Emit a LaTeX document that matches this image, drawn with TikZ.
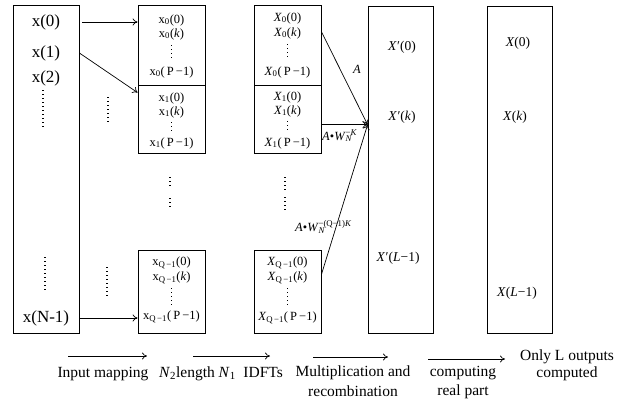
\documentclass[tikz,border=0pt]{standalone}
\usepackage{fontspec}
\setmainfont{Liberation Serif}
\usetikzlibrary{arrows.meta}
\newcommand\xsub[2]{x\textsubscript{#1}(#2)}
\newcommand\Xsub[2]{\textit{X}\textsubscript{#1}(#2)}
\newcommand\km{\textit{k}}
\newcommand\pmo{\,P\,−1}
\newcommand\Xpr{\textit{X}\kern0.5pt′}
\begin{document}
\begin{tikzpicture}[x=1pt,y=-1pt,
  box/.style={draw, line width=0.8pt, inner sep=0pt},
  conn/.style={-{To[length=5pt,width=7pt]}, line width=0.7pt},
  dotline/.style={line width=1.1pt, dash pattern=on 1pt off 3pt},
  big/.style={font=\fontsize{17}{19}\selectfont, inner sep=0pt},
  sm/.style={font=\fontsize{12.5}{14}\selectfont, inner sep=0pt},
  mid/.style={font=\fontsize{13.5}{15}\selectfont, inner sep=0pt},
  captxt/.style={font=\fontsize{15.5}{19.5}\selectfont, align=center, inner sep=0pt}]
\useasboundingbox (0,0) rectangle (624,405);
% boxes
\node[box, minimum width=66pt, minimum height=328pt] (L) at (46,169) {};
\node[box, minimum width=67pt, minimum height=80pt] (b0) at (171.5,45) {};
\node[box, minimum width=67pt, minimum height=68pt] (b1) at (171.5,119) {};
\node[box, minimum width=67pt, minimum height=83pt] (bq) at (171.5,291.5) {};
\node[box, minimum width=67pt, minimum height=80pt] (X0) at (287.5,45) {};
\node[box, minimum width=67pt, minimum height=68pt] (X1) at (287.5,119) {};
\node[box, minimum width=67pt, minimum height=83pt] (Xq) at (287.5,291.5) {};
\node[box, minimum width=65pt, minimum height=327pt] (Xp) at (400.5,169.5) {};
\node[box, minimum width=65pt, minimum height=327pt] (Out) at (519.5,169.5) {};
% left column
\node[big] (x0) at (46,22) {x(0)};
\node[big] (x1) at (46,53) {x(1)};
\node[big] (x2) at (46,78) {x(2)};
\node[big] (xN) at (46,318) {x(N-1)};
\draw[dotline] (43,90) -- (43,127);
\draw[dotline] (45,257) -- (45,293);
\draw[dotline] (108,97) -- (108,122);
\draw[dotline] (107,267) -- (107,298);
% column 2
\node[sm] (a00) at (171.5,20) {\xsub{0}{0}};
\node[sm] (a0k) at (171.5,34) {\xsub{0}{\km}};
\draw[dotline] (171.5,45) -- (171.5,58);
\node[sm] (a0p) at (171.5,72) {\xsub{0}{\pmo}};
\node[sm] (a10) at (171.5,98) {\xsub{1}{0}};
\node[sm] (a1k) at (171.5,112) {\xsub{1}{\km}};
\draw[dotline] (171.5,122) -- (171.5,132);
\node[sm] (a1p) at (171.5,143) {\xsub{1}{\pmo}};
\draw[dotline] (170,177) -- (170,188);
\draw[dotline] (170,198) -- (170,210);
\node[sm] (aq0) at (171.5,263) {\xsub{Q\,−1}{0}};
\node[sm] (aqk) at (171.5,278) {\xsub{Q\,−1}{\km}};
\draw[dotline] (171.5,288) -- (171.5,305);
\node[sm] (aqp) at (171.5,317) {\xsub{Q\,−1}{\pmo}};
% column 3
\node[sm] (c00) at (287.5,18) {\Xsub{0}{0}};
\node[sm] (c0k) at (287.5,33) {\Xsub{0}{\km}};
\draw[dotline] (287.5,44) -- (287.5,58);
\node[sm] (c0p) at (287.5,72) {\Xsub{0}{\pmo}};
\node[sm] (c10) at (287.5,97) {\Xsub{1}{0}};
\node[sm] (c1k) at (287.5,111) {\Xsub{1}{\km}};
\draw[dotline] (287.5,121) -- (287.5,132);
\node[sm] (c1p) at (287.5,143) {\Xsub{1}{\pmo}};
\draw[dotline] (285,177) -- (285,190);
\draw[dotline] (285,197) -- (285,210);
\node[sm] (cq0) at (287.5,263) {\Xsub{Q\,−1}{0}};
\node[sm] (cqk) at (287.5,278) {\Xsub{Q\,−1}{\km}};
\draw[dotline] (287.5,288) -- (287.5,305);
\node[sm] (cqp) at (287.5,318) {\Xsub{Q\,−1}{\pmo}};
% X' column
\node[mid] (p0) at (402,47) {\Xpr(0)};
\node[mid] (pk) at (402,117) {\Xpr(\km)};
\node[mid] (pl) at (398,258) {\Xpr(\textit{L}−1)};
% output column
\node[mid] (o0) at (518,43) {\textit{X}(0)};
\node[mid] (ok) at (515,117) {\textit{X}(\km)};
\node[mid] (ol) at (517,293) {\textit{X}(\textit{L}−1)};
% connectors
\draw[conn] ([xshift=3pt]L.east |- x0) -- (b0.west |- x0);
\draw[conn] (L.east |- x1) -- ([yshift=-8pt]b1.north west);
\draw[conn] (L.east |- xN) -- (bq.west |- xN);
\coordinate (conv) at ([yshift=-119pt]Xp.north west);
\draw[conn] ([yshift=-27pt]X0.north east) -- (conv);
\draw[conn] (X1.east |- conv) -- (conv);
\draw[conn] ([yshift=-25pt]Xq.north east) -- (conv);
\node[sm] (lA) at (357,69) {\textit{A}};
\node[sm, anchor=west] (lB) at (322,136) {\textit{A}•\textit{W}\rlap{\textsuperscript{−\textit{K}}}\textsubscript{\textit{N}}};
\node[sm, anchor=west] (lC) at (295,227) {\textit{A}•\textit{W}\rlap{\textsuperscript{−(Q−1)\textit{K}}}\textsubscript{\textit{N}}};
% bottom stage arrows
\coordinate (s1a) at (68,356); \coordinate (s1b) at (147,356);
\coordinate (s2a) at (193,356); \coordinate (s2b) at (270,356);
\coordinate (s3a) at (313,357); \coordinate (s3b) at (388,357);
\coordinate (s4a) at (428,359); \coordinate (s4b) at (505,359);
\draw[conn] (s1a) -- (s1b);
\draw[conn] (s2a) -- (s2b);
\draw[conn] (s3a) -- (s3b);
\draw[conn] (s4a) -- (s4b);
\node[captxt] (t1) at (103,374) {Input mapping};
\node[captxt] (t2) at (221,374) {\textit{N}\textsubscript{2}length \textit{N}\textsubscript{1}\ \ IDFTs};
\node[captxt, anchor=north] (t3) at (353,366) {Multiplication and\\recombination};
\node[captxt, anchor=north] (t4) at (463,366) {computing\\real part};
\node[captxt, anchor=north, font=\fontsize{15.5}{17}\selectfont] (t5) at (567,350) {Only L outputs\\computed};
\end{tikzpicture}
\end{document}
